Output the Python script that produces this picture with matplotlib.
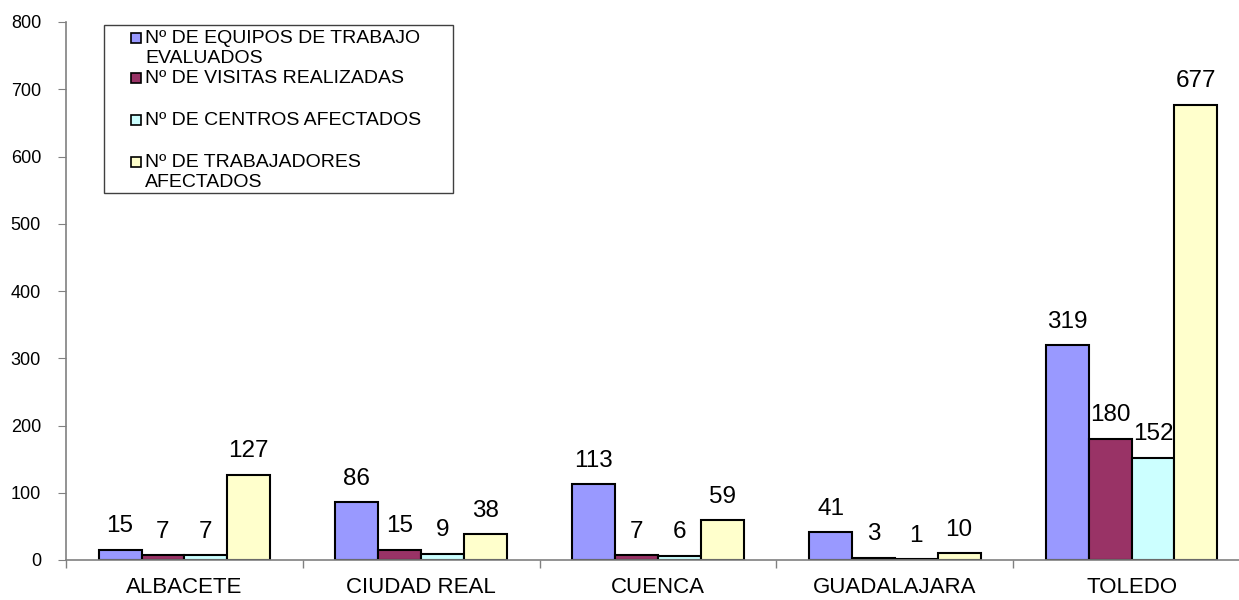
import matplotlib.pyplot as plt
import numpy as np
from matplotlib.patches import Rectangle

plt.rcParams['font.family'] = ['Liberation Sans', 'DejaVu Sans']

provincias = ['ALBACETE', 'CIUDAD REAL', 'CUENCA', 'GUADALAJARA', 'TOLEDO']
equipos = [15, 86, 113, 41, 319]
visitas = [7, 15, 7, 3, 180]
centros = [7, 9, 6, 1, 152]
trabajadores = [127, 38, 59, 10, 677]

series = ['Nº DE EQUIPOS DE TRABAJO\nEVALUADOS', 'Nº DE VISITAS REALIZADAS',
          'Nº DE CENTROS AFECTADOS', 'Nº DE TRABAJADORES\nAFECTADOS']
colores = ['#9999FF', '#993366', '#CCFFFF', '#FFFFCC']

W, H = 1239, 600
fig = plt.figure(figsize=(W / 100, H / 100), dpi=100)
# ejes en pixeles: izquierda 66, derecha 1250 (fuera de la imagen), arriba 22, abajo 560
ax = fig.add_axes([66 / W, 1 - 560 / H, (1250 - 66) / W, (560 - 22) / H])

x = np.arange(len(provincias))
ancho = 0.181
datos = [equipos, visitas, centros, trabajadores]
for i, (vals, col) in enumerate(zip(datos, colores)):
    pos = x + (i - 1.5) * ancho
    bars = ax.bar(pos, vals, ancho, color=col, edgecolor='black', linewidth=1.5)
    ax.bar_label(bars, labels=[str(v) for v in vals], padding=9, fontsize=17.5)

ax.set_xlim(-0.5, 4.5)
ax.set_ylim(0, 800)
ax.set_yticks(np.arange(0, 801, 100))
ax.set_xticks(x)
ax.set_xticklabels(provincias)
ax.set_xticks(np.arange(-0.5, 4.6, 1), minor=True)
ax.tick_params(axis='x', which='major', length=0, pad=12, labelsize=16)
ax.tick_params(axis='x', which='minor', length=6, color='#808080', width=1)
ax.tick_params(axis='y', length=6, color='#808080', pad=12, labelsize=13)

for s in ['top', 'right']:
    ax.spines[s].set_visible(False)
for s in ['left', 'bottom']:
    ax.spines[s].set_color('#808080')
    ax.spines[s].set_linewidth(1.2)

# leyenda dibujada a mano (coordenadas en pixeles de la figura)
def px(xp, yp):
    return xp / W, 1 - yp / H

fig.patches.append(Rectangle(px(104, 193), (453 - 104) / W, (193 - 25) / H,
                             transform=fig.transFigure, facecolor='white',
                             edgecolor='#404040', linewidth=1.0))
filas = [38, 78, 120, 162]
for lab, col, yp in zip(series, colores, filas):
    fig.patches.append(Rectangle(px(131, yp + 5), 10 / W, 10 / H,
                                 transform=fig.transFigure, facecolor=col,
                                 edgecolor='black', linewidth=1.2))
    fig.text(*px(145, yp - 8), lab, fontsize=14, va='top', ha='left',
             linespacing=1.2)

fig.savefig('out.png', dpi=100)
